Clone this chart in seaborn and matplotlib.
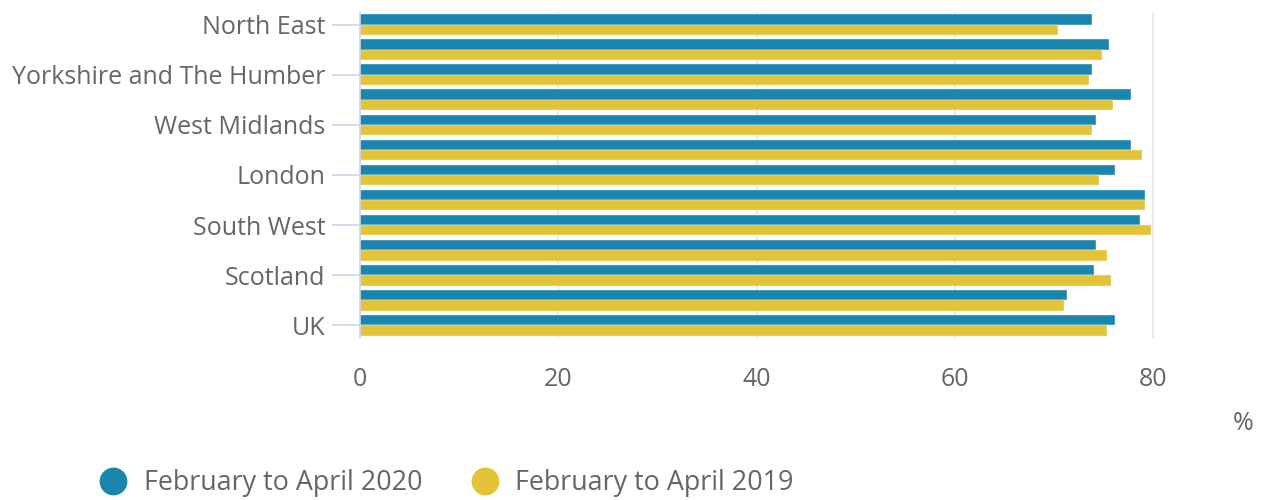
import matplotlib
matplotlib.use("Agg")
import matplotlib.pyplot as plt
from matplotlib.lines import Line2D
import seaborn as sns
import pandas as pd

regions = ["North East", "North West", "Yorkshire and The Humber", "East Midlands",
           "West Midlands", "East of England", "London", "South East", "South West",
           "Wales", "Scotland", "Northern Ireland", "UK"]
rate_2020 = [73.8, 75.6, 73.8, 77.8, 74.2, 77.8, 76.2, 79.2, 78.7, 74.2, 74.0, 71.3, 76.2]
rate_2019 = [70.4, 74.9, 73.5, 76.0, 73.8, 78.9, 74.6, 79.2, 79.8, 75.4, 75.8, 71.0, 75.4]
series = ["February to April 2020", "February to April 2019"]
colors = ["#1a86ad", "#e3c338"]
x_ticks = [0, 20, 40, 60, 80]

df = pd.DataFrame({
    "region": regions * 2,
    "value": rate_2020 + rate_2019,
    "period": [series[0]] * len(regions) + [series[1]] * len(regions),
})

sns.set_theme(style="white")
plt.rcParams["font.family"] = ["Open Sans", "DejaVu Sans"]

fig = plt.figure(figsize=(12.62, 5.0), dpi=100)
ax = fig.add_axes([360 / 1262, 1 - 338 / 500, (1156 - 360) / 1262, (338 - 12) / 500])

sns.barplot(data=df, y="region", x="value", hue="period", order=regions,
            hue_order=series, palette=colors, orient="h", width=0.82,
            edgecolor="#f4f4f4", linewidth=0.3, ax=ax, legend=False, saturation=1)

ax.set_xlim(0, 80.3)
ax.set_ylim(len(regions) - 0.5, -0.5)
ax.set_xticks(x_ticks)
ax.set_xticklabels([str(t) for t in x_ticks])
shown = list(range(0, len(regions), 2))
ax.set_yticks(shown)
ax.set_yticklabels([regions[i] for i in shown])
ax.set_xlabel("")
ax.set_ylabel("")

ax.grid(axis="x", color="#e6e6e6", linewidth=1.2)
ax.set_axisbelow(True)
for s in ["top", "right", "bottom"]:
    ax.spines[s].set_visible(False)
ax.spines["left"].set_color("#ccd6eb")
ax.spines["left"].set_linewidth(1.2)

ax.tick_params(axis="y", length=20, width=1.2, color="#ccd6eb", pad=5,
               labelsize=18, labelcolor="#666666", left=True)
ax.tick_params(axis="x", length=0, pad=21, labelsize=18, labelcolor="#666666")

fig.text(1243 / 1262, 1 - 423 / 500, "%", ha="center", va="center",
         fontsize=18, color="#666666")

handles = [Line2D([0], [0], marker="o", linestyle="", markersize=19,
                  markerfacecolor=c, markeredgecolor=c) for c in colors]
fig.legend(handles, series, loc="center left", bbox_to_anchor=(100 / 1262, 1 - 483 / 500),
           ncol=2, frameon=False, fontsize=19.4, labelcolor="#666666",
           handletextpad=0.64, columnspacing=1.8, borderaxespad=0, borderpad=0,
           handlelength=1.0)

fig.savefig("out.png", dpi=100)
